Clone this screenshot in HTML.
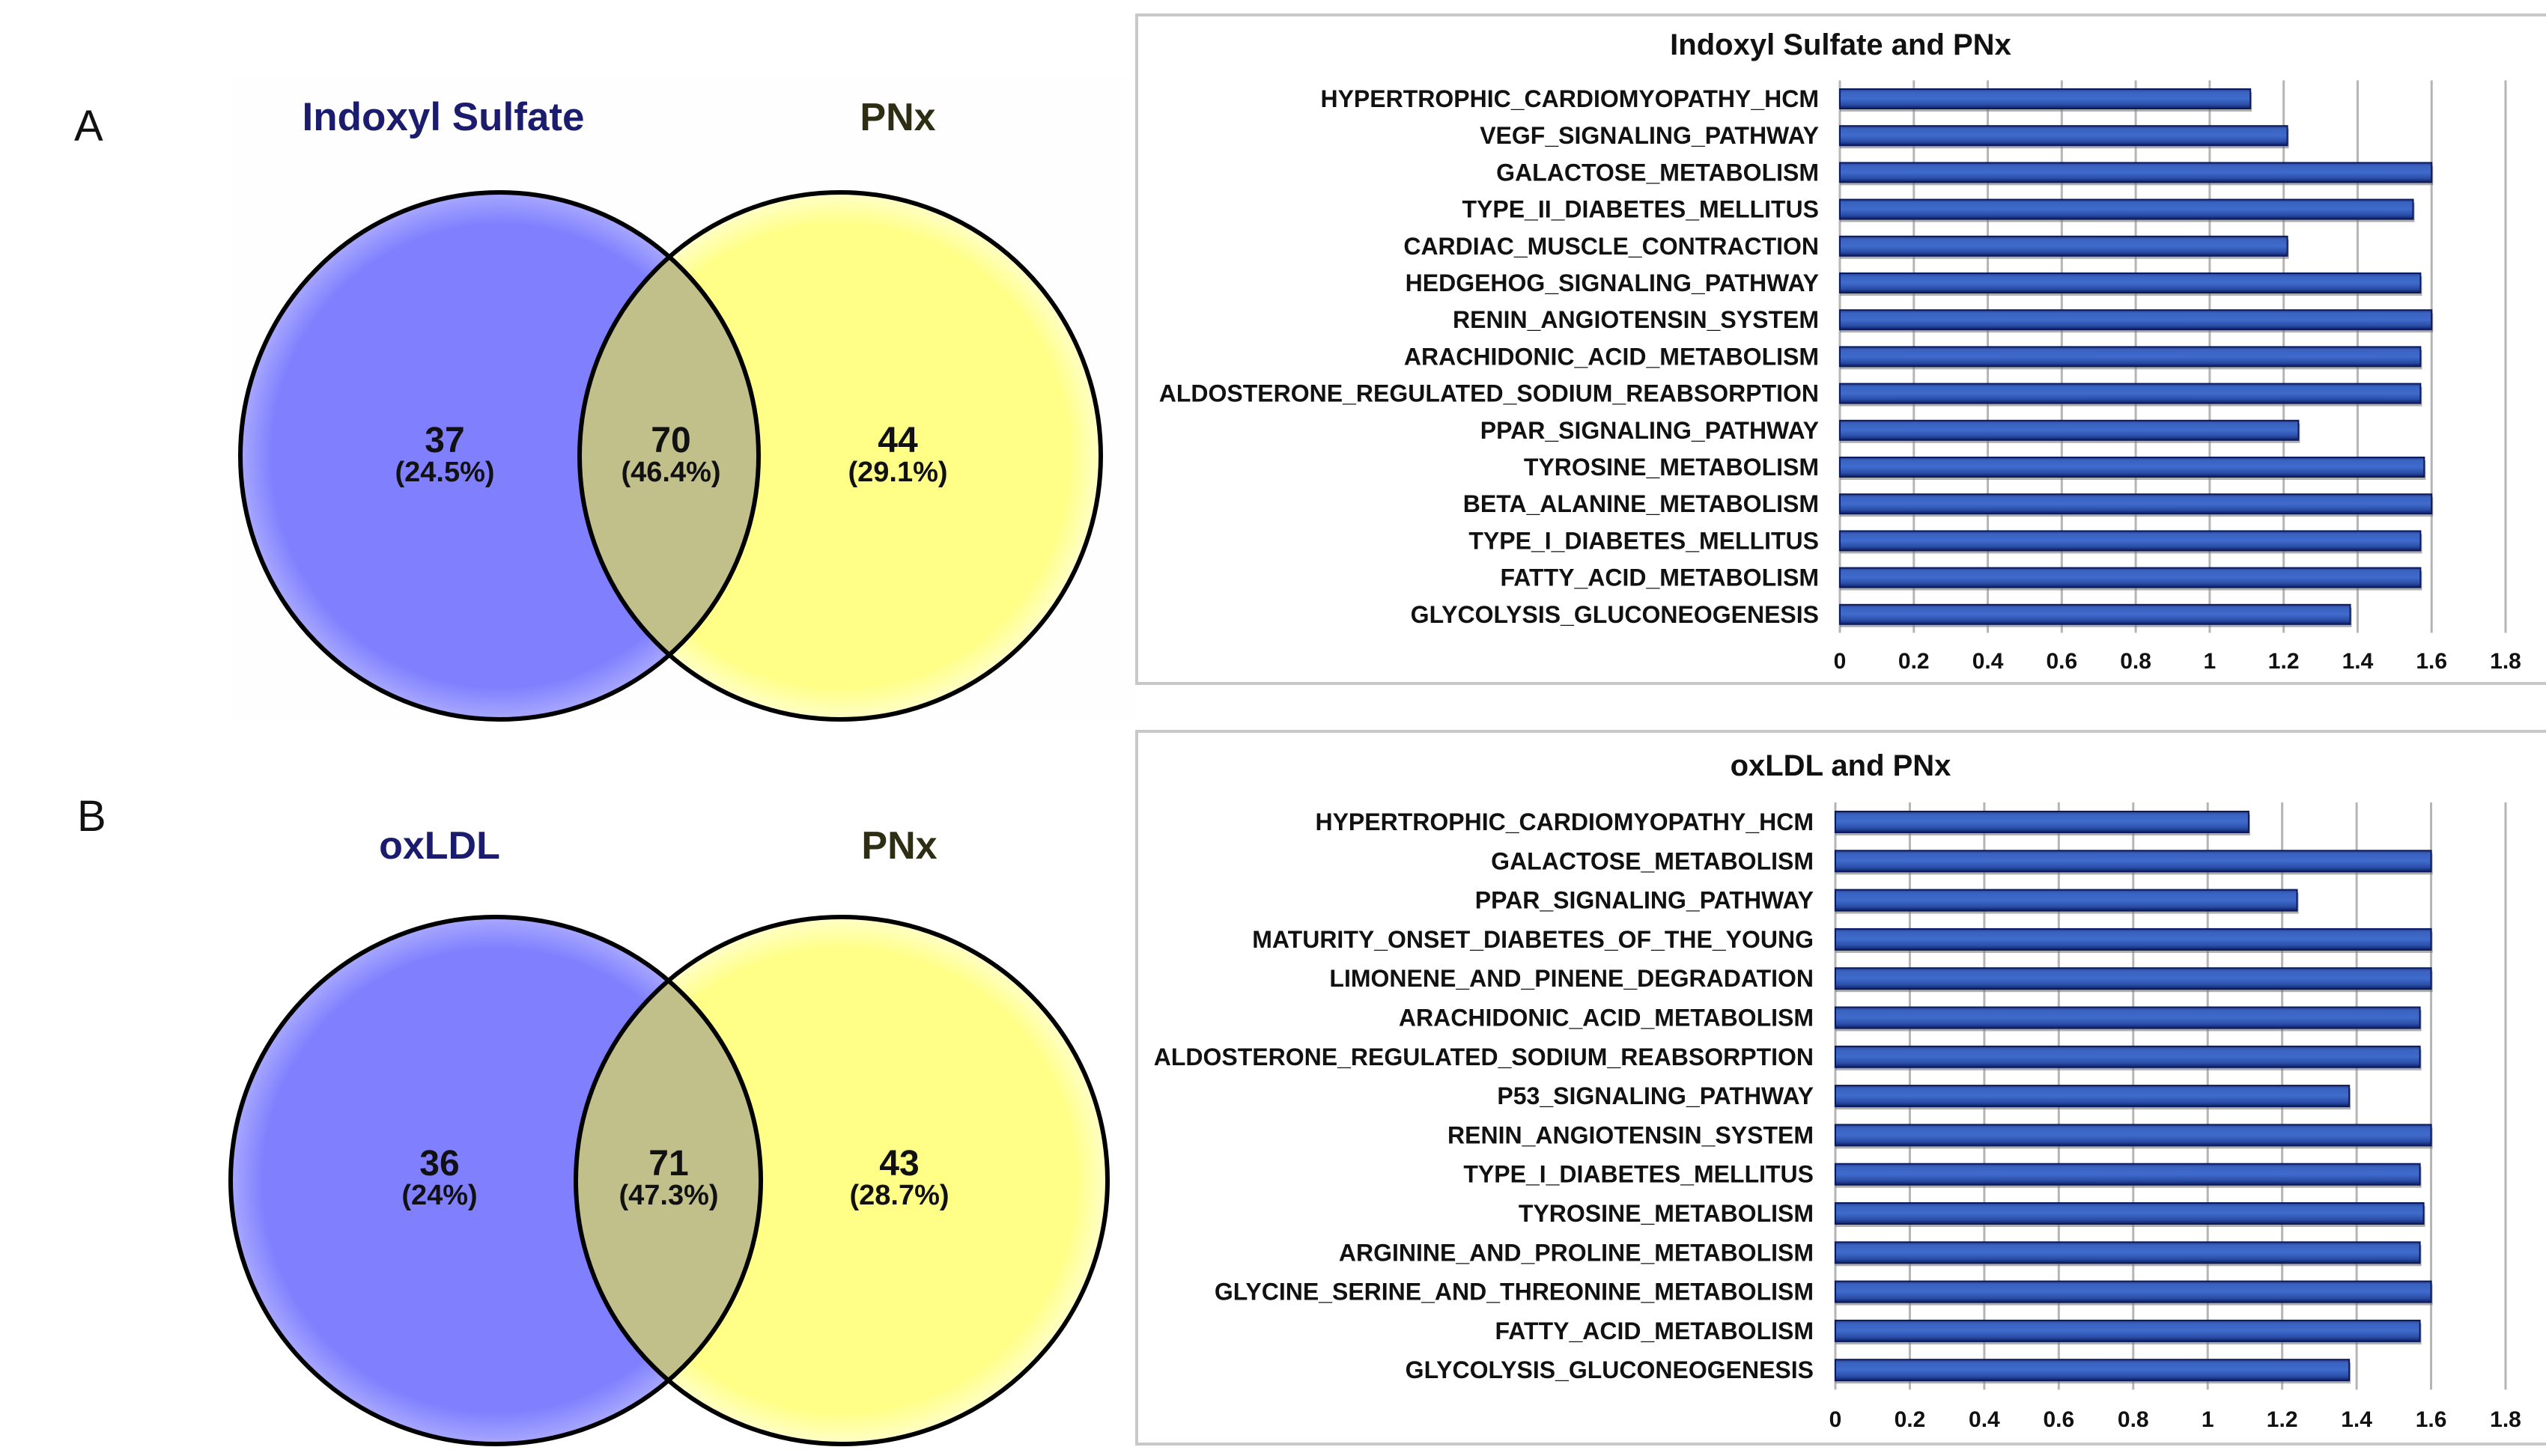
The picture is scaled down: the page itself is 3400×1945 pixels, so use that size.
<!DOCTYPE html>
<html><head><meta charset="utf-8"><style>
html,body{margin:0;padding:0;background:#fff;}
svg{display:block;font-family:"Liberation Sans",sans-serif;}
</style></head><body>
<svg id="fig" width="3400" height="1945" viewBox="0 0 3400 1945" xmlns="http://www.w3.org/2000/svg">
<defs>
<radialGradient id="gBlue" cx="50%" cy="50%" r="50%"><stop offset="88%" stop-color="#8080ff"/><stop offset="100%" stop-color="#a8a8ff"/></radialGradient>
<radialGradient id="gYel" cx="50%" cy="50%" r="50%"><stop offset="88%" stop-color="#ffff88"/><stop offset="100%" stop-color="#ffffc8"/></radialGradient>
<linearGradient id="gBar" x1="0" y1="0" x2="0" y2="1"><stop offset="0" stop-color="#24408f"/><stop offset="0.15" stop-color="#3a62c0"/><stop offset="0.5" stop-color="#3f6bcc"/><stop offset="0.8" stop-color="#2a4ea8"/><stop offset="1" stop-color="#0f1f66"/></linearGradient>
<clipPath id="clipA"><ellipse cx="667" cy="609" rx="346" ry="352"/></clipPath>
<clipPath id="clipB"><ellipse cx="662" cy="1577" rx="354" ry="352"/></clipPath>
</defs>

<g>
<rect x="308" y="103" width="1210" height="860" fill="#fefefe"/>
<text x="99" y="188" font-size="58" fill="#111">A</text>
<text x="592" y="174" font-size="53" font-weight="bold" fill="#1c1c6e" text-anchor="middle">Indoxyl Sulfate</text>
<text x="1199" y="174" font-size="52" font-weight="bold" fill="#2e2e14" text-anchor="middle">PNx</text>
<ellipse cx="667" cy="609" rx="346" ry="352" fill="url(#gBlue)"/>
<ellipse cx="1122" cy="609" rx="348" ry="352" fill="url(#gYel)"/>
<ellipse cx="1122" cy="609" rx="348" ry="352" fill="#c2c08a" clip-path="url(#clipA)"/>
<ellipse cx="667" cy="609" rx="346" ry="352" fill="none" stroke="#000" stroke-width="6"/>
<ellipse cx="1122" cy="609" rx="348" ry="352" fill="none" stroke="#000" stroke-width="6"/>
<g font-weight="bold" text-anchor="middle" fill="#111">
<text x="594" y="604" font-size="48">37</text>
<text x="594" y="643" font-size="38">(24.5%)</text>
<text x="896" y="604" font-size="48">70</text>
<text x="896" y="643" font-size="38">(46.4%)</text>
<text x="1199" y="604" font-size="48">44</text>
<text x="1199" y="643" font-size="38">(29.1%)</text>
</g>
</g>

<g>
<text x="103" y="1110" font-size="58" fill="#111">B</text>
<text x="587" y="1147" font-size="52" font-weight="bold" fill="#1c1c6e" text-anchor="middle">oxLDL</text>
<text x="1201" y="1147" font-size="52" font-weight="bold" fill="#2e2e14" text-anchor="middle">PNx</text>
<ellipse cx="662" cy="1577" rx="354" ry="352" fill="url(#gBlue)"/>
<ellipse cx="1124" cy="1577" rx="355" ry="352" fill="url(#gYel)"/>
<ellipse cx="1124" cy="1577" rx="355" ry="352" fill="#c2c08a" clip-path="url(#clipB)"/>
<ellipse cx="662" cy="1577" rx="354" ry="352" fill="none" stroke="#000" stroke-width="6"/>
<ellipse cx="1124" cy="1577" rx="355" ry="352" fill="none" stroke="#000" stroke-width="6"/>
<g font-weight="bold" text-anchor="middle" fill="#111">
<text x="587" y="1570" font-size="48">36</text>
<text x="587" y="1609" font-size="38">(24%)</text>
<text x="893" y="1570" font-size="48">71</text>
<text x="893" y="1609" font-size="38">(47.3%)</text>
<text x="1201" y="1570" font-size="48">43</text>
<text x="1201" y="1609" font-size="38">(28.7%)</text>
</g>
</g>

<g id="chartA"></g>
<g id="chartB"></g>
</svg>
<script>
const categoriesA = ["HYPERTROPHIC_CARDIOMYOPATHY_HCM","VEGF_SIGNALING_PATHWAY","GALACTOSE_METABOLISM","TYPE_II_DIABETES_MELLITUS","CARDIAC_MUSCLE_CONTRACTION","HEDGEHOG_SIGNALING_PATHWAY","RENIN_ANGIOTENSIN_SYSTEM","ARACHIDONIC_ACID_METABOLISM","ALDOSTERONE_REGULATED_SODIUM_REABSORPTION","PPAR_SIGNALING_PATHWAY","TYROSINE_METABOLISM","BETA_ALANINE_METABOLISM","TYPE_I_DIABETES_MELLITUS","FATTY_ACID_METABOLISM","GLYCOLYSIS_GLUCONEOGENESIS"];
const valuesA = [1.11,1.21,1.60,1.55,1.21,1.57,1.60,1.57,1.57,1.24,1.58,1.60,1.57,1.57,1.38];
const categoriesB = ["HYPERTROPHIC_CARDIOMYOPATHY_HCM","GALACTOSE_METABOLISM","PPAR_SIGNALING_PATHWAY","MATURITY_ONSET_DIABETES_OF_THE_YOUNG","LIMONENE_AND_PINENE_DEGRADATION","ARACHIDONIC_ACID_METABOLISM","ALDOSTERONE_REGULATED_SODIUM_REABSORPTION","P53_SIGNALING_PATHWAY","RENIN_ANGIOTENSIN_SYSTEM","TYPE_I_DIABETES_MELLITUS","TYROSINE_METABOLISM","ARGININE_AND_PROLINE_METABOLISM","GLYCINE_SERINE_AND_THREONINE_METABOLISM","FATTY_ACID_METABOLISM","GLYCOLYSIS_GLUCONEOGENESIS"];
const valuesB = [1.11,1.60,1.24,1.60,1.60,1.57,1.57,1.38,1.60,1.57,1.58,1.57,1.60,1.57,1.38];
const tickValues = [0,0.2,0.4,0.6,0.8,1,1.2,1.4,1.6,1.8];
const tickLabels = ["0","0.2","0.4","0.6","0.8","1","1.2","1.4","1.6","1.8"];
const titleA = "Indoxyl Sulfate and PNx";
const titleB = "oxLDL and PNx";

const NS = "http://www.w3.org/2000/svg";
function mk(parent, tag, attrs, txt){
  const e = document.createElementNS(NS, tag);
  for (const k in attrs) e.setAttribute(k, attrs[k]);
  if (txt !== undefined) e.textContent = txt;
  parent.appendChild(e);
  return e;
}
function drawChart(g, cfg, cats, vals, title){
  const x = v => cfg.x0 + v / 1.8 * (cfg.x1 - cfg.x0);
  const y = i => cfg.yFirst + i * cfg.step;
  const box = mk(g, "rect", {x:cfg.bx, y:cfg.by, width:cfg.bw, height:cfg.bh, fill:"#fff", stroke:"#c8c8c8", "stroke-width":4});
  
  
  const t = mk(g, "text", {x:cfg.tx, y:cfg.ty, "font-size":40, "font-weight":"bold", "text-anchor":"middle", fill:"#111"}, title);
  
  
  const gTop = y(0) - cfg.step*0.5, gBot = y(cats.length-1) + cfg.step*0.5;
  tickValues.forEach((v, k) => {
    const gl = mk(g, "line", {x1:x(v), x2:x(v), y1:gTop, y2:gBot, stroke:"#b5b5b5", "stroke-width":3});
    
    
    const tl = mk(g, "text", {x:x(v), y:cfg.tickY, "font-size":30, "font-weight":"bold", "text-anchor":"middle", fill:"#111"}, tickLabels[k]);
    
    
  });
  cats.forEach((c, i) => {
    const cy = y(i), h = cfg.barH;
    const sh = mk(g, "rect", {x:x(0), y:cy - h/2 + 4, width:x(vals[i]) - x(0) + 2, height:h, fill:"#7a7a7a", opacity:0.6});
    
    
    const b = mk(g, "rect", {x:x(0), y:cy - h/2, width:x(vals[i]) - x(0), height:h, fill:"url(#gBar)", stroke:"#0c1a5c", "stroke-width":2});
    
    
    const l = mk(g, "text", {x:cfg.labelX, y:cy + 11, "font-size":32, "font-weight":"bold", "text-anchor":"end", fill:"#111"}, c);
    
    
  });
}
drawChart(document.getElementById("chartA"),
  {bx:1518, by:20, bw:1920, bh:893, tx:2458, ty:73, x0:2457, x1:3346, yFirst:132, step:49.2, barH:26, labelX:2429, tickY:893},
  categoriesA, valuesA, titleA);
drawChart(document.getElementById("chartB"),
  {bx:1518, by:977, bw:1920, bh:952, tx:2458, ty:1036, x0:2451, x1:3346, yFirst:1098, step:52.3, barH:28, labelX:2422, tickY:1906},
  categoriesB, valuesB, titleB);
</script>
</body></html>
